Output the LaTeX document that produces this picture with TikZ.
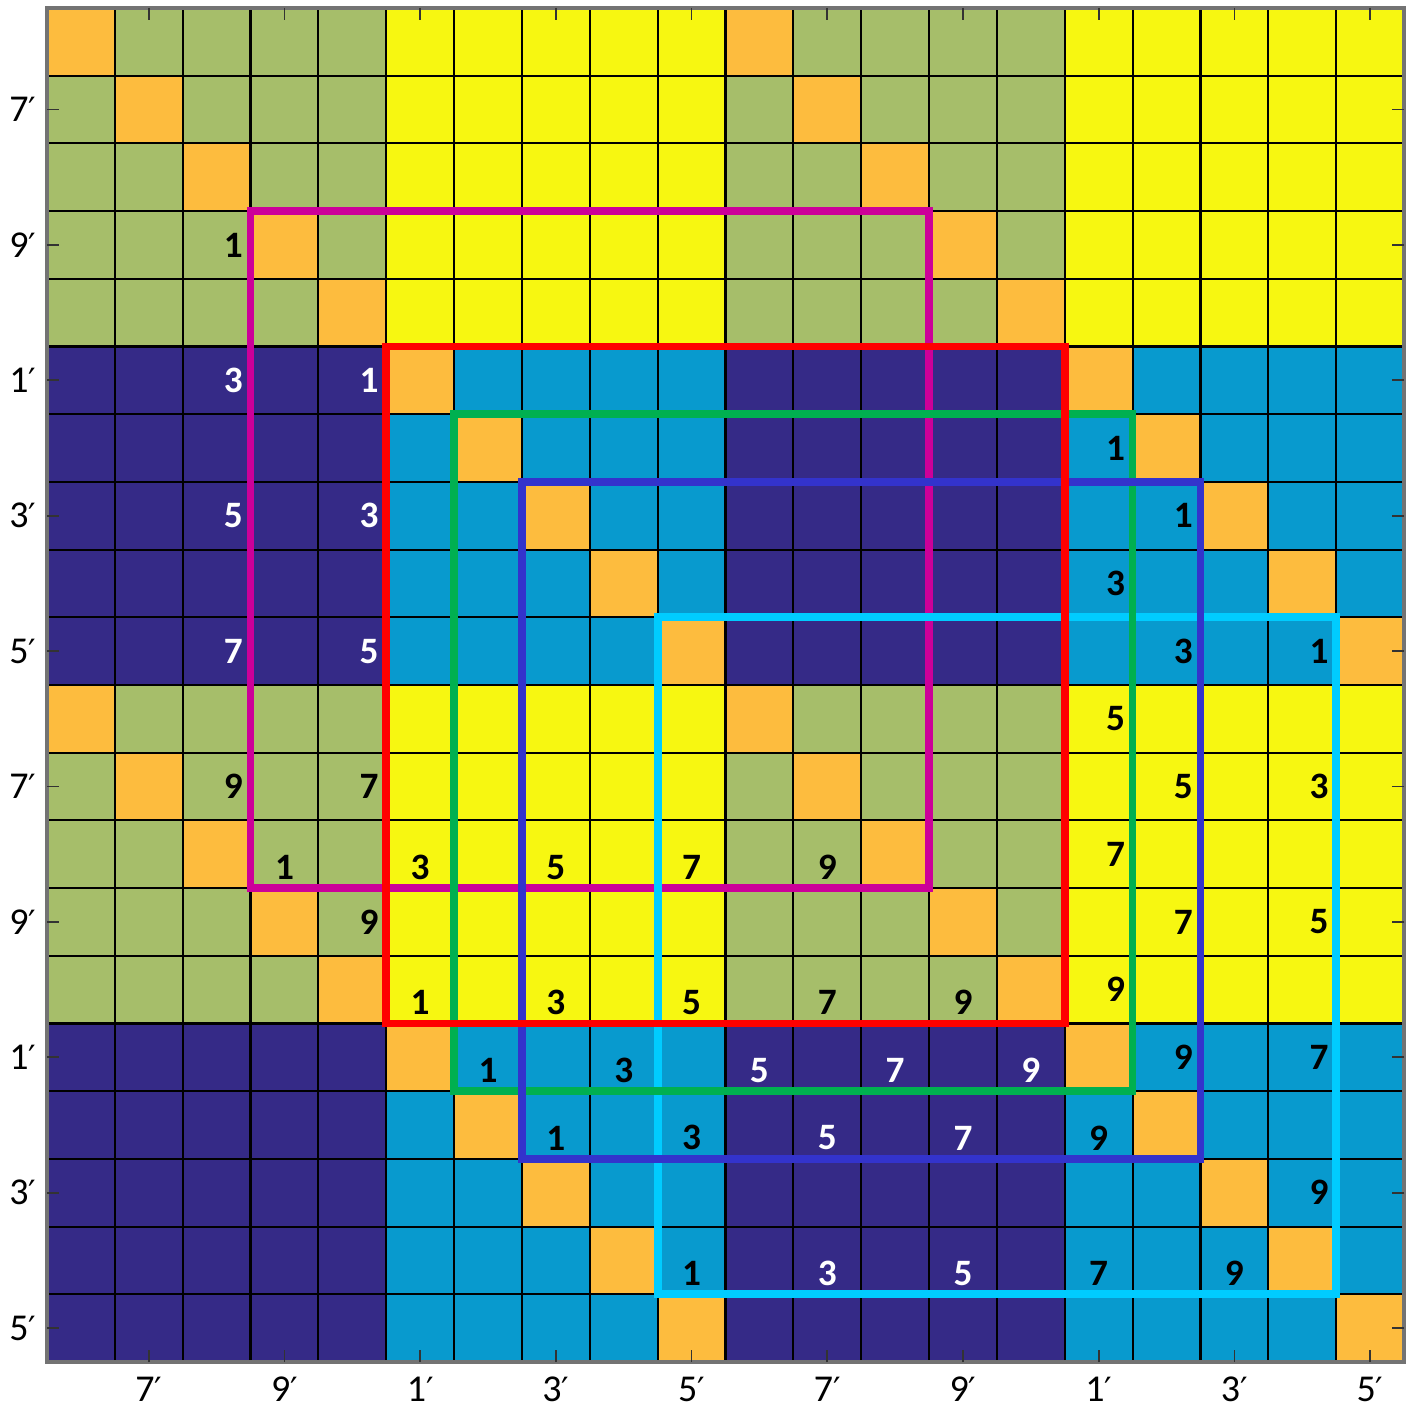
\documentclass[tikz,border=0pt]{standalone}
\usepackage{fontspec}
\setmainfont{Carlito}
\newfontfamily\primefont{DejaVu Sans}
\usetikzlibrary{calc}
\definecolor{gdOlive}{RGB}{166,190,106}
\definecolor{gdYellow}{RGB}{247,247,17}
\definecolor{gdNavy}{RGB}{53,42,135}
\definecolor{gdBlue}{RGB}{8,154,206}
\definecolor{gdOrange}{RGB}{253,188,62}
\definecolor{bxMagenta}{RGB}{204,0,153}
\definecolor{bxRed}{RGB}{255,0,0}
\definecolor{bxGreen}{RGB}{0,176,80}
\definecolor{bxBlue}{RGB}{51,51,204}
\definecolor{bxCyan}{RGB}{0,204,255}
% white ink on navy cells, black elsewhere
\newcommand{\cellink}[2]{%
  \pgfmathtruncatemacro\isnavy{and(mod(floor(#2/5),2)==1,mod(floor(#1/5),2)==0)}%
  \ifnum\isnavy=1 \def\lblink{white}\else\def\lblink{black}\fi}
\newcommand{\prm}{{\primefont\fontsize{9.5}{11}\selectfont ′}}

\begin{document}
\begin{tikzpicture}[font=\fontsize{10.8}{13}\selectfont,
  gridline/.style={draw=black,line width=0.6pt},
  frame/.style={draw=black!55,line width=0.9pt},
  tickmark/.style={draw=black!80,line width=0.5pt},
  box/.style={line width=2.2pt,line join=miter},
  num/.style={font=\fontsize{10.6}{13}\selectfont\bfseries,inner sep=0pt},
  axlbl/.style={inner sep=0pt}]
\useasboundingbox (0,0) rectangle (14.14,-14.06);

\begin{scope}[xshift=0.47cm,yshift=-0.08cm,x=0.6785cm,y=-0.677cm]
% ===== 5x5 blocks =====
\foreach \br in {0,...,3}
  \foreach \bc in {0,...,3}{
    \pgfmathtruncatemacro\rb{mod(\br,2)}
    \pgfmathtruncatemacro\cb{mod(\bc,2)}
    \ifnum\rb=0
      \ifnum\cb=0 \def\blk{gdOlive}\else\def\blk{gdYellow}\fi
    \else
      \ifnum\cb=0 \def\blk{gdNavy}\else\def\blk{gdBlue}\fi
    \fi
    \fill[fill=\blk] (5*\bc,5*\br) rectangle ++(5,5);
  }

% ===== diagonal cells =====
\foreach \r in {0,...,19}{
  \pgfmathtruncatemacro\dc{mod(\r,10)}
  \fill[gdOrange] (\dc,\r) rectangle ++(1,1);
  \fill[gdOrange] (\dc+10,\r) rectangle ++(1,1);
}

% ===== grid, frame and ticks =====
\foreach \k in {0,...,20}{
  \draw[gridline] (\k,0) -- (\k,20);
  \draw[gridline] (0,\k) -- (20,\k);
}
\draw[frame] (0,0) rectangle (20,20);
\foreach \k in {1,3,...,19}{
  \draw[tickmark] (\k+.5,0) -- ++(0,-0.12cm);
  \draw[tickmark] (\k+.5,20) -- ++(0,0.12cm);
  \draw[tickmark] (0,\k+.5) -- ++(0.12cm,0);
  \draw[tickmark] (20,\k+.5) -- ++(-0.12cm,0);
}

% ===== axis labels =====
\foreach \k/\t in {1/7,3/9,5/1,7/3,9/5,11/7,13/9,15/1,17/3,19/5}{
  \node[axlbl,anchor=east,xshift=-0.1cm] (yl\k) at (0,\k+.5) {\t\prm};
  \node[axlbl,anchor=north,yshift=-0.14cm] (xl\k) at (\k+.5,20) {\t\prm};
}

% ===== boxes and their numbers =====
\foreach \bx/\a/\xb/\clr in {mg/3/3/bxMagenta,cy/9/19/bxCyan,gn/6/16/bxGreen,
                              bl/7/17/bxBlue,rd/5/5/bxRed}{
  \draw[box,\clr] (\a,\a) rectangle ++(10,10);
  \foreach \n [count=\i from 0] in {1,3,5,7,9}{
    \pgfmathtruncatemacro\rc{\a+2*\i}
    \pgfmathtruncatemacro\sc{\xb-1}
    \pgfmathtruncatemacro\lr{\a+9}
    \cellink{\sc}{\rc}
    \node[num,text=\lblink,anchor=east,xshift=-0.07cm] (\bx-s\n) at (\xb,\rc+.5) {\n};
    \cellink{\rc}{\lr}
    \node[num,text=\lblink,anchor=south,yshift=0.08cm] (\bx-b\n) at (\rc+.5,\a+10) {\n};
  }
}
\end{scope}
\end{tikzpicture}
\end{document}
